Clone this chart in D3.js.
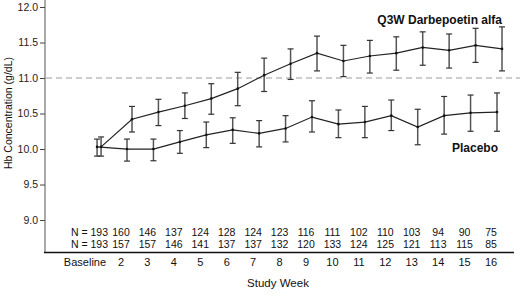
<!DOCTYPE html>
<html><head><meta charset="utf-8">
<script src="https://cdn.jsdelivr.net/npm/d3@7/dist/d3.min.js"></script>
<style>
html,body{margin:0;padding:0;background:#fff;}
svg{display:block;font-family:"Liberation Sans",Arial,Helvetica,sans-serif;}
</style></head>
<body>
<svg id="chart" width="520" height="297"></svg>
<script>
const weeks = [1,2,3,4,5,6,7,8,9,10,11,12,13,14,15,16];
const weekLabels = ["Baseline","2","3","4","5","6","7","8","9","10","11","12","13","14","15","16"];
const darbMean  = [10.03,10.42,10.52,10.61,10.71,10.85,11.04,11.20,11.35,11.24,11.31,11.35,11.43,11.39,11.46,11.41];
const darbUpper = [10.17,10.60,10.70,10.79,10.92,11.08,11.28,11.41,11.59,11.46,11.53,11.58,11.65,11.62,11.70,11.72];
const darbLower = [9.90,10.24,10.33,10.43,10.49,10.61,10.81,10.98,11.10,11.02,11.07,11.11,11.18,11.14,11.22,11.10];
const placMean  = [10.03,10.00,10.00,10.10,10.20,10.27,10.22,10.29,10.45,10.35,10.38,10.47,10.31,10.47,10.51,10.52];
const placUpper = [10.14,10.14,10.14,10.26,10.38,10.44,10.40,10.47,10.68,10.55,10.60,10.69,10.56,10.74,10.76,10.79];
const placLower = [9.90,9.83,9.835,9.94,10.02,10.08,10.03,10.10,10.24,10.16,10.16,10.26,10.06,10.21,10.25,10.25];
const nDarb = [193,160,146,137,124,128,124,123,116,111,102,110,103,94,90,75];
const nPlac = [193,157,157,146,141,137,137,132,120,133,124,125,121,113,115,85];
const yTicks = [9.0,9.5,10.0,10.5,11.0,11.5,12.0];
const refLine = 11.0;
const seriesNames = ["Q3W Darbepoetin alfa","Placebo"];

const svg = d3.select("#chart");
const x = d3.scaleLinear().domain([2,16]).range([121,491]);
const y = d3.scaleLinear().domain([8.55,12.0]).range([252,7]);

// reference line
svg.append("line").attr("x1",46).attr("x2",520).attr("y1",y(refLine)).attr("y2",y(refLine))
  .attr("stroke","#bdbdbd").attr("stroke-width",1.3).attr("stroke-dasharray","6,4");

// y axis
const yAxis = d3.axisLeft(y).tickValues(yTicks).tickFormat(d3.format(".1f")).tickSize(5).tickPadding(2);
const gy = svg.append("g").attr("transform","translate(45,0)").call(yAxis);
gy.select(".domain").remove();
gy.selectAll(".tick line").attr("stroke","#444");
gy.selectAll("text").attr("font-size",10.5).attr("fill","#222").attr("font-family","Liberation Sans, Arial, sans-serif");
svg.append("line").attr("x1",45).attr("x2",45).attr("y1",0).attr("y2",252).attr("stroke","#555").attr("stroke-width",1);

// x axis line
svg.append("line").attr("x1",44).attr("x2",514).attr("y1",252.5).attr("y2",252.5).attr("stroke","#111").attr("stroke-width",1.6);

// x tick labels
svg.append("g").selectAll("text").data(weeks).join("text")
  .attr("x",(d,i)=> i===0 ? x(d)+11.5 : x(d))
  .attr("y",266)
  .attr("text-anchor",(d,i)=> i===0 ? "end" : "middle")
  .attr("font-size",11).attr("fill","#111")
  .text((d,i)=>weekLabels[i]);

// N rows
[[nDarb,236],[nPlac,248]].forEach(([arr,yy])=>{
  svg.append("g").selectAll("text").data(weeks).join("text")
    .attr("x",(d,i)=> i===0 ? x(d)+13.5 : x(d))
    .attr("y",yy)
    .attr("text-anchor",(d,i)=> i===0 ? "end" : "middle")
    .attr("font-size",10.5).attr("fill","#111")
    .text((d,i)=> i===0 ? "N = "+arr[i] : arr[i]);
});

svg.append("text").attr("x",278).attr("y",287).attr("text-anchor","middle")
  .attr("font-size",11.5).attr("fill","#111").text("Study Week");

svg.append("text").attr("transform","translate(12,113) rotate(-90)").attr("text-anchor","middle")
  .attr("font-size",10.5).attr("fill","#111").text("Hb Concentration (g/dL)");

function drawSeries(mean, lo, hi, dx) {
  const g = svg.append("g");
  const xs = (w,i)=> i===0 ? x(w)+dx[0] : x(w)+dx[1];
  // error bars
  weeks.forEach((w,i)=>{
    const cx = xs(w,i);
    g.append("line").attr("x1",cx).attr("x2",cx).attr("y1",y(hi[i])).attr("y2",y(lo[i]))
      .attr("stroke","#555").attr("stroke-width",1.5);
    [hi[i],lo[i]].forEach(v=>{
      g.append("line").attr("x1",cx-3).attr("x2",cx+3).attr("y1",y(v)).attr("y2",y(v))
        .attr("stroke","#333").attr("stroke-width",1.2);
    });
  });
  const line = d3.line().x((d,i)=>xs(weeks[i],i)).y(d=>y(d));
  g.append("path").datum(mean).attr("d",line).attr("fill","none").attr("stroke","#222").attr("stroke-width",1.2);
  g.selectAll("circle").data(mean).join("circle")
    .attr("cx",(d,i)=>xs(weeks[i],i)).attr("cy",d=>y(d)).attr("r",1.3).attr("fill","#111");
}
// Baseline position x(1) = 94.6
drawSeries(placMean, placLower, placUpper, [2.5,6]);
drawSeries(darbMean, darbLower, darbUpper, [6.5,11]);

svg.append("text").attr("x",502).attr("y",24).attr("text-anchor","end")
  .attr("font-size",12).attr("font-weight","bold").attr("fill","#111").text(seriesNames[0]);
svg.append("text").attr("x",498).attr("y",152).attr("text-anchor","end")
  .attr("font-size",12).attr("font-weight","bold").attr("fill","#111").text(seriesNames[1]);
</script>
</body></html>
